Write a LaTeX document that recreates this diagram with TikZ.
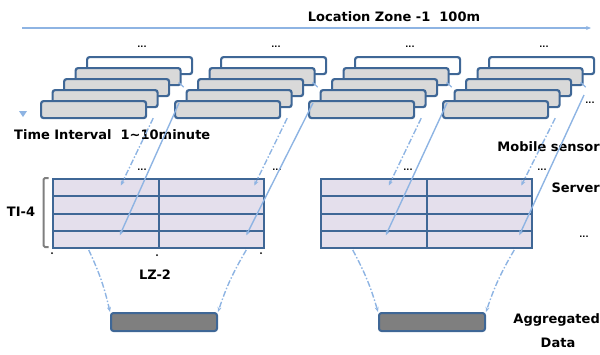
\documentclass[tikz,border=0pt]{standalone}
\usepackage{fontspec}
\setmainfont{DejaVu Sans}
\usetikzlibrary{arrows.meta,calc}
\definecolor{frameblue}{HTML}{3F6796}
\definecolor{flowblue}{HTML}{8EB4E3}
\definecolor{slotgray}{HTML}{D9D9D9}
\definecolor{celllav}{HTML}{E4DFEC}
\definecolor{agggray}{HTML}{7F7F7F}
\definecolor{brackgray}{HTML}{7F7F7F}
\tikzset{
  slot/.style={draw=frameblue,line width=2.2pt,rounded corners=2.5pt,fill=slotgray,
    minimum width=105pt,minimum height=17pt,inner sep=0pt,anchor=north west},
  cell/.style={draw=frameblue,line width=2pt,fill=celllav,
    minimum width=105.5pt,minimum height=17.25pt,inner sep=0pt,anchor=north west},
  aggbox/.style={draw=frameblue,line width=2pt,rounded corners=2.5pt,fill=agggray,
    minimum width=106pt,minimum height=18pt,inner sep=0pt,anchor=north west},
  flow/.style={flowblue,line width=1.4pt,-{Stealth[length=5pt,width=4pt]}},
  flowdash/.style={flow,dash pattern=on 6pt off 2pt on 1.5pt off 2pt},
  lbl/.style={font=\bfseries\fontsize{13}{15}\selectfont,inner sep=0pt},
  dots/.style={font=\bfseries\fontsize{8}{9}\selectfont,inner sep=0pt},
}
\begin{document}
\begin{tikzpicture}[x=1pt,y=-1pt]
  \useasboundingbox (0,0) rectangle (600,354);
  % location axis along the top
  \coordinate (axisL) at (22,28);
  \coordinate (axisR) at (591,28);
  \draw[flow,line width=1.8pt] (axisL) -- (axisR);
  \node[lbl] (zone) at (394,17) {Location Zone -1\ \ 100m};
  % small mark of the time axis
  \fill[flowblue] (19,111) -- (27,111) -- (23,117) -- cycle;
  % stacks of time slots, one per location
  \foreach \g in {0,...,3}{
    \node[slot,fill=white] (s\g4) at ({40+134*\g+46},56) {};
    \foreach \k in {3,2,1,0}
      \node[slot] (s\g\k) at ({40+134*\g+11.5*\k},{100-11*\k}) {};
    \draw[flowblue,line width=1.2pt] ($(s\g3.south east)+(-3,-4)$) -- ++(5,5);
    \node[dots] (top\g) at ({142+134*\g},47) {...};
  }
  \node[dots] (dotsR) at (590,103) {...};
  \node[lbl,anchor=west] (interval) at (14,135) {Time Interval\ \ 1\textasciitilde10minute};
  \node[lbl,anchor=east] (mobile) at (600,147) {Mobile sensor};
  % server tables
  \foreach \t/\tx in {1/52,2/320}
    \foreach \r in {1,...,4}
      \foreach \c in {1,2}
        \node[cell] (t\t-\r-\c) at ({\tx+105.5*(\c-1)},{178+17.25*(\r-1)}) {};
  \node[dots] (cd1) at (142,170) {...};
  \node[dots] (cd2) at (277,170) {...};
  \node[dots] (cd3) at (408,170) {...};
  \node[dots] (cd4) at (542,170) {...};
  \node[lbl,anchor=east] (server) at (600,188) {Server};
  \node[dots] (dotsS) at (584,237) {...};
  % bracket for TI-4
  \draw[brackgray,line width=2pt,rounded corners=1.5pt] (48.5,178) -- (43.5,178) -- (43.5,247) -- (48.5,247);
  \node[lbl] (ti) at (21,212) {TI-4};
  % slots into tables
  \draw[flowdash] ($(s00.south east)+(6,-1)$) -- ($(t1-1-1.center)+(15,-2)$);
  \draw[flow] ($(s10.north west)+(5,3)$) -- ($(t1-4-1.center)+(14,-4)$);
  \draw[flowdash] ($(s10.south east)+(6,-1)$) -- ($(t1-1-2.center)+(43,-2)$);
  \draw[flow] ($(s20.north west)+(5,3)$) -- ($(t1-4-2.center)+(35,-4)$);
  \draw[flowdash] ($(s20.south east)+(6,-1)$) -- ($(t2-1-1.center)+(15,-2)$);
  \draw[flow] ($(s30.north west)+(5,3)$) -- ($(t2-4-1.center)+(12,-4)$);
  \draw[flowdash] ($(s30.south east)+(6,-1)$) -- ($(t2-1-2.center)+(42,-2)$);
  \coordinate (edge) at (584,95);
  \draw[flow] (edge) -- ($(t2-4-2.center)+(40,-4)$);
  % small marks under first table
  \fill (52,253) circle (1);
  \fill (157,255) circle (1);
  \fill (261,253) circle (1);
  \node[lbl] (lz) at (155,275) {LZ-2};
  % aggregated data
  \node[aggbox] (agg1) at (110,312) {};
  \node[aggbox] (agg2) at (378,312) {};
  \draw[flowdash] ($(t1-4-1.south)+(-17,1)$) to[bend left=6] (agg1.north west);
  \draw[flowdash] ($(t1-4-2.south)+(35,1)$) to[bend right=6] (agg1.north east);
  \draw[flowdash] ($(t2-4-1.south)+(-21,1)$) to[bend left=6] (agg2.north west);
  \draw[flowdash] ($(t2-4-2.south)+(35,1)$) to[bend right=6] (agg2.north east);
  \node[lbl,anchor=east] (aggr) at (600,320) {Aggregated};
  \node[lbl] (data) at (558,343) {Data};
\end{tikzpicture}
\end{document}
